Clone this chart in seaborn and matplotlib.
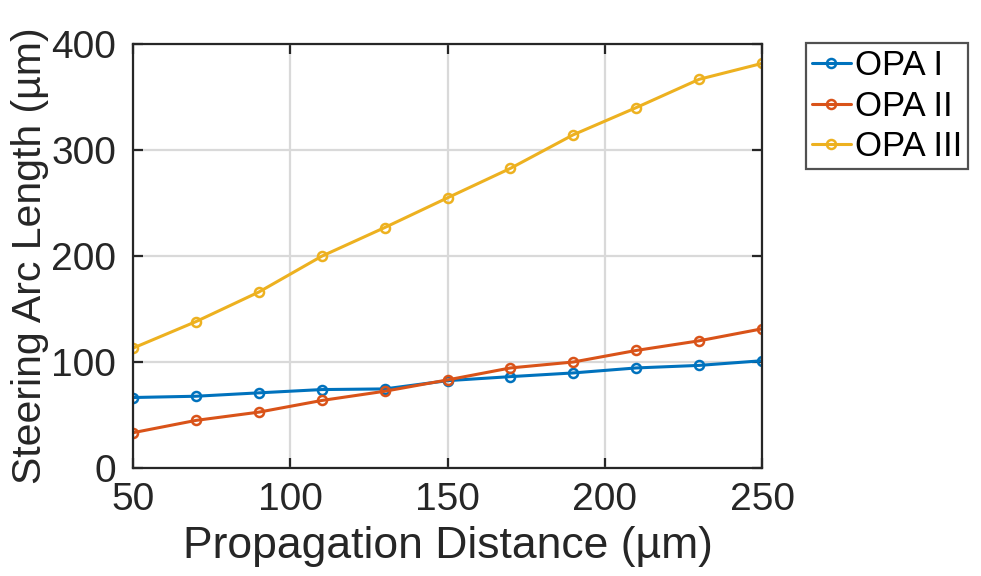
import seaborn as sns
import matplotlib.pyplot as plt
import pandas as pd
import numpy as np

# datos
distancia = [50, 70, 90, 110, 130, 150, 170, 190, 210, 230, 250]
opa_1 = [66.5, 67.7, 70.9, 74.0, 74.6, 82.4, 86.2, 89.7, 94.4, 96.8, 101.2]
opa_2 = [33.3, 44.9, 52.7, 63.7, 72.4, 83.1, 94.4, 100.0, 110.9, 120.0, 131.3]
opa_3 = [113.1, 138.1, 166.0, 199.8, 226.8, 254.9, 282.7, 314.4, 340.0, 366.7, 381.7]
series = ["OPA I", "OPA II", "OPA III"]
colores = ["#0072BD", "#D95319", "#EDB120"]

df = pd.DataFrame({
    "Distancia": distancia * 3,
    "Arco": opa_1 + opa_2 + opa_3,
    "Serie": [s for s in series for _ in distancia],
})

# plot
sns.set_style("ticks")
plt.rcParams['font.family'] = ['Liberation Sans', 'DejaVu Sans']
fig = plt.figure(figsize=(9.81, 5.76), dpi=100)
ax = fig.add_axes([0.1356, 0.1875, 0.7768 - 0.1356, 0.9236 - 0.1875])
sns.lineplot(data=df, x="Distancia", y="Arco", hue="Serie", palette=colores,
             marker="o", markersize=6.5, markerfacecolor="none", markeredgewidth=1.8,
             linewidth=2.2, ax=ax)
for ln in ax.lines:
    ln.set_markeredgecolor(ln.get_color())

ax.set_xlim(50, 250)
ax.set_ylim(0, 400)
ax.set_xticks([50, 100, 150, 200, 250])
ax.set_yticks([0, 100, 200, 300, 400])
ax.grid(True, color="#D9D9D9", linewidth=1.6)
ax.set_axisbelow(True)
for sp in ax.spines.values():
    sp.set_visible(True)
    sp.set_linewidth(1.6)
    sp.set_color("#262626")
ax.tick_params(direction="in", length=7, width=1.6, labelsize=28, colors="#262626",
               labelcolor="#262626", top=True, right=True)
ax.tick_params(axis="x", pad=10)
ax.tick_params(axis="y", pad=12)
ax.set_xlabel("Propagation Distance (µm)", fontsize=32, color="#262626", labelpad=6)
ax.set_ylabel("Steering Arc Length (µm)", fontsize=29.5, color="#262626", labelpad=2)

leg = ax.legend(loc="upper left", bbox_to_anchor=(0.8216, 0.925), bbox_transform=fig.transFigure,
                fontsize=25, frameon=True, fancybox=False, handlelength=1.12, handletextpad=0.12,
                borderpad=0.17, labelspacing=0.22, borderaxespad=0)
leg.get_frame().set_edgecolor("#262626")
leg.get_frame().set_linewidth(1.6)
for t in leg.get_texts():
    t.set_color("black")

plt.savefig("out.png", dpi=100)
plt.close()
